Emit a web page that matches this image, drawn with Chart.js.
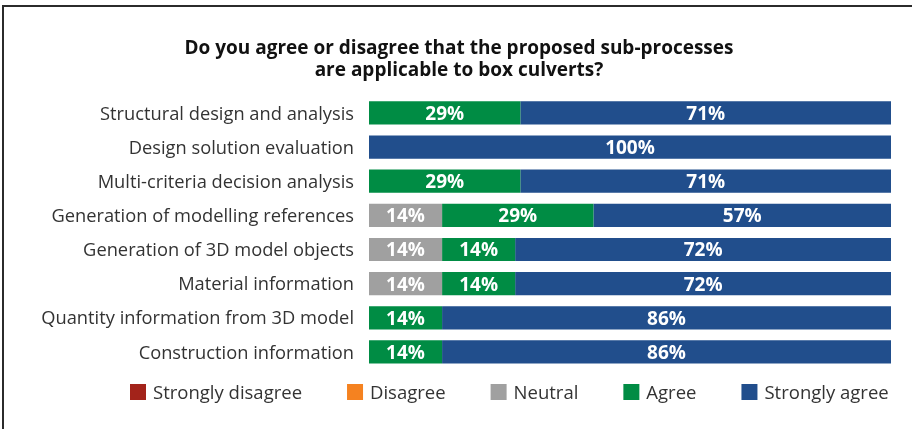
<!DOCTYPE html>
<html>
<head>
<meta charset="utf-8">
<script src="https://cdn.jsdelivr.net/npm/chart.js@4.4.1/dist/chart.umd.min.js"></script>
<style>
  html, body { margin: 0; padding: 0; background: #fff; }
  #wrap { position: relative; width: 912px; height: 429px; overflow: hidden; }
  #frame { position: absolute; left: 2px; top: 5px; width: 1000px; height: 1000px;
           border-left: 2px solid #2b2b2b; border-top: 2px solid #2b2b2b; }
  #chart { position: absolute; left: 0; top: 0; }
</style>
</head>
<body>
<div id="wrap">
  <div id="frame"></div>
  <canvas id="chart" width="912" height="429"></canvas>
</div>
<script>
var categories = [
    'Structural design and analysis',
    'Design solution evaluation',
    'Multi-criteria decision analysis',
    'Generation of modelling references',
    'Generation of 3D model objects',
    'Material information',
    'Quantity information from 3D model',
    'Construction information'
];
var stronglyDisagree = [0, 0, 0, 0, 0, 0, 0, 0];
var disagree         = [0, 0, 0, 0, 0, 0, 0, 0];
var neutral          = [0, 0, 0, 14, 14, 14, 0, 0];
var agree            = [29, 0, 29, 29, 14, 14, 14, 14];
var stronglyAgree    = [71, 100, 71, 57, 72, 72, 86, 86];

var titleLines = ['Do you agree or disagree that the proposed sub-processes', 'are applicable to box culverts?'];

var fontName = 'Open Sans';

// white % labels centred in each segment
var valueLabels = {
    id: 'valueLabels',
    afterDatasetsDraw: function(chart) {
        var ctx = chart.ctx;
        ctx.save();
        ctx.font = 'bold 19px "' + fontName + '"';
        ctx.fillStyle = '#ffffff';
        ctx.textAlign = 'center';
        ctx.textBaseline = 'middle';
        chart.data.datasets.forEach(function(ds, i) {
            chart.getDatasetMeta(i).data.forEach(function(bar, j) {
                var v = ds.data[j];
                if (!v) return;
                ctx.fillText(v + '%', (bar.x + bar.base) / 2, bar.y + 1.5);
            });
        });
        ctx.restore();
    }
};

// legend row under the bars
var boxLegend = {
    id: 'boxLegend',
    afterDraw: function(chart) {
        var ctx = chart.ctx;
        var x = 130, y = 392;
        ctx.save();
        ctx.font = '18.5px "' + fontName + '"';
        ctx.textBaseline = 'middle';
        chart.data.datasets.forEach(function(ds) {
            ctx.fillStyle = ds.backgroundColor;
            ctx.fillRect(x, y - 8, 16, 16);
            ctx.fillStyle = '#333333';
            ctx.fillText(ds.label, x + 23, y + 1.5);
            x += 23 + ctx.measureText(ds.label).width + 45;
        });
        ctx.restore();
    }
};

new Chart(document.getElementById('chart').getContext('2d'), {
    type: 'bar',
    data: {
        labels: categories,
        datasets: [
            { label: 'Strongly disagree', data: stronglyDisagree, backgroundColor: '#a3231a' },
            { label: 'Disagree', data: disagree, backgroundColor: '#f58220' },
            { label: 'Neutral', data: neutral, backgroundColor: '#a0a0a0' },
            { label: 'Agree', data: agree, backgroundColor: '#008c44' },
            { label: 'Strongly agree', data: stronglyAgree, backgroundColor: '#214e8c' }
        ]
    },
    options: {
        indexAxis: 'y',
        responsive: false,
        animation: false,
        layout: { padding: { left: 27, right: 21, top: 0, bottom: 60 } },
        datasets: { bar: { barPercentage: 0.68, categoryPercentage: 1 } },
        scales: {
            x: { stacked: true, min: 0, max: 100, display: false },
            y: {
                stacked: true,
                grid: { display: false, drawTicks: false },
                border: { display: false },
                ticks: { color: '#333333', padding: 15, labelOffset: 1.5, font: { family: fontName, size: 18.3 } },
                afterFit: function(scale) { scale.width = 342; }
            }
        },
        plugins: {
            legend: { display: false },
            tooltip: { enabled: false },
            title: {
                display: true,
                text: titleLines,
                color: '#111111',
                font: { family: fontName, size: 19, weight: 'bold', lineHeight: 1.18 },
                padding: { top: 37, bottom: 14 }
            }
        }
    },
    plugins: [valueLabels, boxLegend]
});
</script>
</body>
</html>
